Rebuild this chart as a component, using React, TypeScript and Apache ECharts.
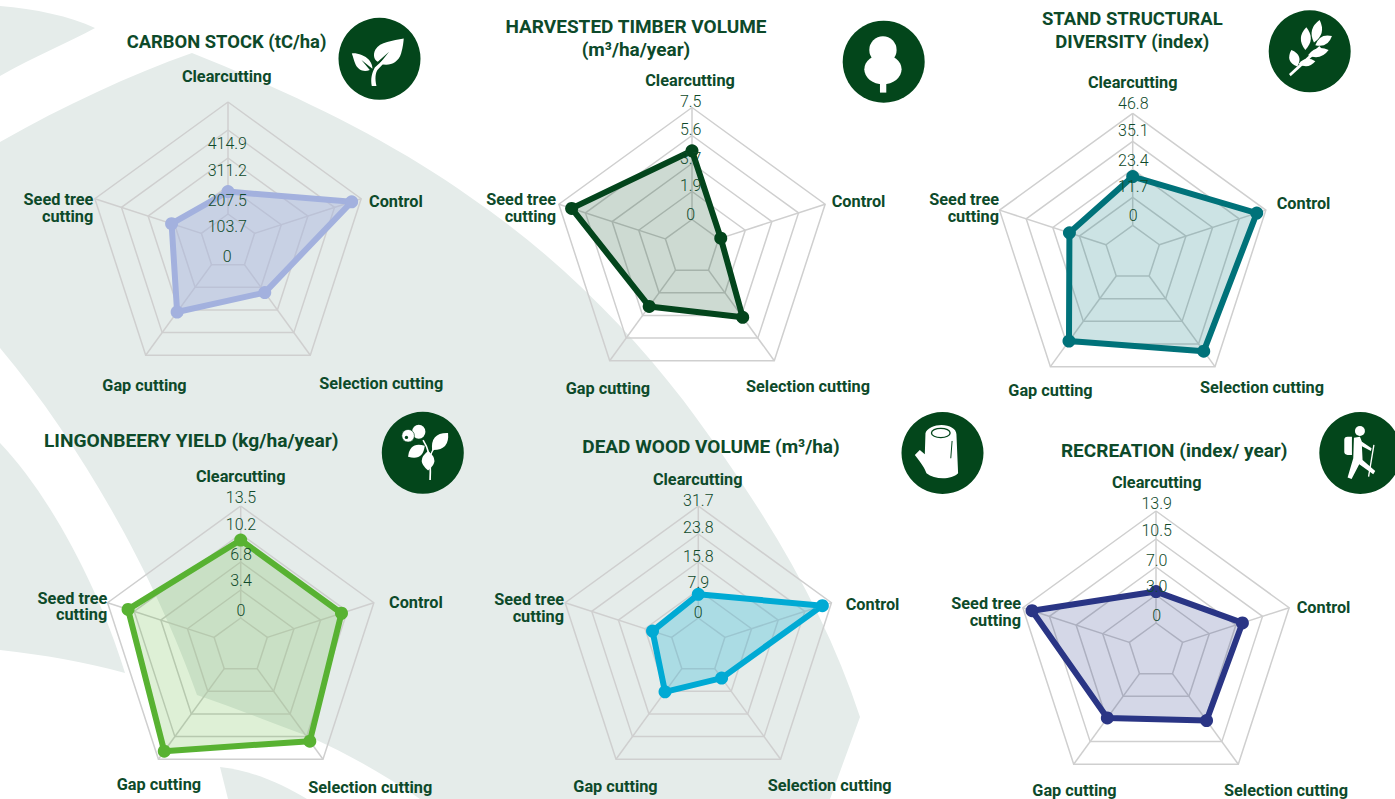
import React, { useEffect, useRef } from "react";
import * as echarts from "echarts";

const FONT = 'Roboto, sans-serif';
const TICK_FONT = 'Roboto, sans-serif';
const TEXT_DARK = "#0d4a2a";
const TICK_COLOR = "#0f4a2a";
const BG_SHAPE = "#e5ecea";
const ICON_DARK = "#03461b";
const RING = "#cfcfcf";
const RADIUS = 140;

const categories = ["Clearcutting", "Control", "Selection cutting", "Gap cutting", "Seed tree\ncutting"];

const carbonStock = [83, 378, 128, 217, 116];
const harvestedTimber = [4.6, 0.15, 3.9, 3.0, 6.6];
const structuralDiversity = [20.4, 42.8, 38.8, 33.6, 16.1];
const lingonberryYield = [9.4, 9.4, 10.8, 12.3, 10.9];
const deadWood = [6.7, 29, 3.3, 8.1, 5.7];
const recreation = [3.9, 7.8, 7.2, 6.8, 12.7];

const carbonTicks = ["414.9", "311.2", "207.5", "103.7", "0"];
const timberTicks = ["7.5", "5.6", "3.7", "1.9", "0"];
const diversityTicks = ["46.8", "35.1", "23.4", "11.7", "0"];
const lingonTicks = ["13.5", "10.2", "6.8", "3.4", "0"];
const deadWoodTicks = ["31.7", "23.8", "15.8", "7.9", "0"];
const recreationTicks = ["13.9", "10.5", "7.0", "3.0", "0"];

// The radar runs counter-clockwise; the first axis stays on top and the rest are reversed.
const toRadarOrder = <T,>(list: T[]): T[] => [list[0], ...list.slice(1).reverse()];

function leaf(x1: number, y1: number, x2: number, y2: number, w: number) {
  const mx = (x1 + x2) / 2, my = (y1 + y2) / 2;
  const dx = x2 - x1, dy = y2 - y1;
  const l = Math.hypot(dx, dy);
  const nx = (-dy / l) * w, ny = (dx / l) * w;
  return `M${x1} ${y1} Q${mx + nx} ${my + ny} ${x2} ${y2} Q${mx - nx} ${my - ny} ${x1} ${y1} Z`;
}
function ell(cx: number, cy: number, rx: number, ry: number) {
  return `M${cx - rx} ${cy} a${rx} ${ry} 0 1 0 ${2 * rx} 0 a${rx} ${ry} 0 1 0 ${-2 * rx} 0 Z`;
}

const W = "#ffffff";
type Part = { d: string; fill?: string; stroke?: string; lw?: number };
const panels: any[] = [
  {
    key: "c1", title: "CARBON STOCK (tC/ha)", titleSize: 18.4, titleX: 226.5, titleY: 41.7,
    values: carbonStock, ticks: carbonTicks, color: "#a3b1de", opacity: 0.45,
    center: [228, 242],
    names: [[226.7, 76.7, "center"], [369, 201.7, "left"], [319.3, 383.3, "left"], [102.3, 385, "left"], [93.3, 208.3, "right"]],
    tickX: 227.3, tickY: [143.7, 170.7, 200, 226.7, 256],
    icon: [379.5, 58.8, 149, 146],
    parts: [
      { d: "M222 85 C190 92 150 95 137 118 C128 135 134 150 144 155 L178 125 L150 160 C175 170 205 160 214 130 C220 110 221 95 222 85 Z", fill: W },
      { d: "M66 130 C80 128 105 135 118 150 C126 160 128 170 128 176 L95 150 L120 180 C100 188 85 178 78 165 C72 150 70 140 66 130 Z", fill: W },
      { d: "M160 150 L135 172 C126 190 122 205 126 228 L140 228 C135 205 137 190 143 180 L166 155 Z", fill: W },
    ],
  },
  {
    key: "c2", title: "HARVESTED TIMBER VOLUME\n(m³/ha/year)", titleSize: 19, titleX: 636, titleY: 38,
    values: harvestedTimber, ticks: timberTicks, color: "#03451c", opacity: 0.2,
    center: [692, 247.5],
    names: [[690, 80.3, "center"], [831.7, 201.7, "left"], [746, 386.7, "left"], [565.7, 388.7, "left"], [556, 208.3, "right"]],
    tickX: 690.7, tickY: [101.7, 129.3, 158.3, 185, 214],
    icon: [883.7, 61.7, 1241, 185],
    parts: [
      { d: ell(1240, 150, 41, 41), fill: W },
      { d: ell(1240, 208, 56, 45), fill: W },
      { d: "M1231 235 H1250 V278 H1231 Z", fill: W },
    ],
  },
  {
    key: "c3", title: "STAND STRUCTURAL\nDIVERSITY (index)", titleSize: 18.5, titleX: 1132.3, titleY: 30.7,
    values: structuralDiversity, ticks: diversityTicks, color: "#00727a", opacity: 0.2,
    center: [1132.7, 253.4],
    names: [[1132.7, 82.3, "center"], [1276.7, 203.3, "left"], [1200, 387.3, "left"], [1008.3, 390, "left"], [999, 208.3, "right"]],
    tickX: 1133.3, tickY: [103.3, 130, 160, 186, 215.7],
    icon: [1309.7, 51.3, 1154, 154],
    parts: [
      { d: "M1093 222 L1098 229 L1190 145 L1184 138 Z", fill: W },
      { d: leaf(1185, 60, 1168, 128, 30), fill: W },
      { d: leaf(1145, 82, 1142, 150, 30), fill: W },
      { d: leaf(1100, 150, 1118, 200, 30), fill: W },
      { d: leaf(1222, 108, 1172, 136, 26), fill: W },
      { d: leaf(1212, 150, 1150, 166, 26), fill: W },
      { d: leaf(1172, 184, 1122, 192, 22), fill: W },
    ],
  },
  {
    key: "c4", title: "LINGONBEERY YIELD (kg/ha/year)", titleSize: 19.2, titleX: 191.2, titleY: 440,
    values: lingonberryYield, ticks: lingonTicks, color: "#58b232", opacity: 0.2,
    center: [240.7, 646],
    names: [[240.7, 476.7, "center"], [389, 602.3, "left"], [308.3, 787.3, "left"], [116.7, 784.3, "left"], [107.3, 606.5, "right"]],
    tickX: 241, tickY: [497.3, 524.3, 554.3, 580.7, 610],
    icon: [422.8, 452.8, 144, 143],
    parts: [
      { d: ell(132, 80, 20, 21), fill: W },
      { d: ell(100, 92, 19, 19), fill: W, stroke: ICON_DARK, lw: 2 },
      { d: ell(95, 97, 5, 5), fill: ICON_DARK },
      { d: leaf(100, 155, 150, 122, 36), fill: W },
      { d: leaf(220, 84, 172, 135, 40), fill: W },
      { d: leaf(160, 138, 160, 196, 38), fill: W },
      { d: "M145 105 C158 125 170 150 166 225", stroke: W, lw: 5 },
      { d: "M195 115 C180 125 172 135 168 150", stroke: W, lw: 4 },
    ],
  },
  {
    key: "c5", title: "DEAD WOOD VOLUME (m³/ha)", titleSize: 19, titleX: 711, titleY: 446,
    values: deadWood, ticks: deadWoodTicks, color: "#00aad4", opacity: 0.25,
    center: [698.3, 646],
    names: [[697.7, 479, "center"], [845.7, 604.3, "left"], [767.7, 785, "left"], [573.3, 786.7, "left"], [564, 608.3, "right"]],
    tickX: 698.3, tickY: [500, 527.3, 556.7, 582.7, 612.3],
    icon: [942.5, 453, 143, 144],
    parts: [
      { d: "M92 85 C95 70 120 60 140 60 C165 60 185 72 185 88 L190 205 C170 225 120 225 95 205 C90 190 80 175 60 150 L75 135 L90 148 Z", fill: W },
      { d: ell(138, 84, 28, 14), fill: "none", stroke: ICON_DARK, lw: 4 },
      { d: "M172 108 L168 160", stroke: ICON_DARK, lw: 3 },
    ],
  },
  {
    key: "c6", title: "RECREATION (index/ year)", titleSize: 19, titleX: 1174.2, titleY: 450,
    values: recreation, ticks: recreationTicks, color: "#2a3585", opacity: 0.2,
    center: [1156, 651],
    names: [[1156.7, 482.3, "center"], [1296.7, 607.7, "left"], [1224, 790, "left"], [1032.3, 790, "left"], [1021, 612, "right"]],
    tickX: 1156.7, tickY: [503.3, 530, 560.7, 586, 615.7],
    icon: [1360.3, 453, 151, 144],
    parts: [
      { d: ell(150, 78, 15, 15), fill: W },
      { d: "M103 105 Q103 95 113 95 L126 95 L126 150 L113 150 Q103 150 103 140 Z", fill: W },
      { d: "M132 98 L150 95 L156 110 L185 130 L183 138 L156 124 L158 165 L196 198 L190 208 L148 178 L125 222 L113 218 L130 160 Z", fill: W },
      { d: "M192 120 L176 215", stroke: W, lw: 4 },
    ],
  },
];

const backgroundPaths = [
  "M0 6 C35 9 70 16 95 28 C70 42 35 56 0 76 Z",
  "M192 53 C290 92 390 140 470 197 C555 255 625 325 683 400 C765 510 825 610 860 717 L830 799 L420 799 C385 775 350 755 310 737 C270 722 235 708 197 695 C160 590 90 455 0 348 L0 142 C65 105 130 75 192 53 Z",
  "M0 443 C50 495 100 590 125 673 C85 662 45 655 0 650 Z",
  "M220 767 C250 770 280 783 307 799 L228 799 Z",
];

function reg(name: string, d: string) {
  echarts.graphic.registerShape(name, (echarts.graphic as any).extendPath(d, {}));
}
backgroundPaths.forEach((d, i) => reg(`bg${i}`, d));
panels.forEach((p) => (p.parts as Part[]).forEach((part, i) => reg(`${p.key}part${i}`, part.d)));

function buildOption() {
  const elements: any[] = backgroundPaths.map((_, i) => ({ type: `bg${i}`, x: 0, y: 0, z: -5, silent: true, style: { fill: BG_SHAPE } }));
  const radars: any[] = [];
  const series: any[] = [];

  panels.forEach((p, idx) => {
    const top = parseFloat(p.ticks[0]);
    radars.push({
      center: p.center,
      radius: RADIUS,
      startAngle: 90,
      splitNumber: 5,
      shape: "polygon",
      axisName: { show: false },
      axisLine: { show: false },
      axisTick: { show: false },
      axisLabel: { show: false },
      splitArea: { show: false },
      splitLine: { show: true, lineStyle: { color: RING, width: 1.5 } },
      indicator: toRadarOrder(categories).map((c) => ({ name: c, min: -top / 4, max: top })),
    });
    series.push({
      type: "radar",
      radarIndex: idx,
      symbol: "circle",
      symbolSize: 13,
      lineStyle: { color: p.color, width: 6 },
      itemStyle: { color: p.color },
      areaStyle: { color: p.color, opacity: p.opacity },
      data: [{ value: toRadarOrder(p.values), name: p.title }],
    });
    categories.forEach((_, i) => {
      const a = Math.PI / 2 - (i * 2 * Math.PI) / categories.length;
      elements.push({
        type: "line",
        silent: true,
        z: 0,
        shape: {
          x1: p.center[0] + (RADIUS / 5) * Math.cos(a),
          y1: p.center[1] - (RADIUS / 5) * Math.sin(a),
          x2: p.center[0] + RADIUS * Math.cos(a),
          y2: p.center[1] - RADIUS * Math.sin(a),
        },
        style: { stroke: RING, lineWidth: 1.5 },
      });
    });
    elements.push({
      type: "text", x: p.titleX, y: p.titleY, z: 5,
      style: { text: p.title, align: "center", verticalAlign: "middle", fill: TEXT_DARK, font: `700 ${p.titleSize}px ${FONT}`, lineHeight: 22.6 },
    });
    categories.forEach((c, i) => {
      const [x, y, align] = p.names[i];
      elements.push({
        type: "text", x, y, z: 5,
        style: { text: c, align, verticalAlign: "middle", fill: TEXT_DARK, font: `700 16.3px ${FONT}`, lineHeight: 16.8 },
      });
    });
    p.ticks.forEach((t: string, i: number) => {
      elements.push({
        type: "text", x: p.tickX, y: p.tickY[i], z: 5,
        style: { text: t, align: "center", verticalAlign: "middle", fill: TICK_COLOR, font: `300 16px ${TICK_FONT}` },
      });
    });
    const [cx, cy, ox, oy] = p.icon;
    elements.push({ type: "circle", silent: true, z: 5, shape: { cx, cy, r: 41 }, style: { fill: ICON_DARK } });
    (p.parts as Part[]).forEach((part, i) => {
      elements.push({
        type: `${p.key}part${i}`,
        silent: true,
        z: 5,
        x: cx - ox / 3,
        y: cy - oy / 3,
        scaleX: 1 / 3,
        scaleY: 1 / 3,
        style: { fill: part.fill ?? "none", stroke: part.stroke ?? "none", lineWidth: part.lw ?? 0 },
      });
    });
  });

  return {
    animation: false,
    backgroundColor: "#ffffff",
    graphic: { elements },
    radar: radars,
    series,
  };
}

export default function App() {
  const ref = useRef<HTMLDivElement>(null);
  useEffect(() => {
    document.body.style.margin = "0";
    const chart = echarts.init(ref.current!, undefined, { renderer: "svg" });
    chart.setOption(buildOption());
    return () => chart.dispose();
  }, []);
  return <div ref={ref} style={{ width: 1395, height: 799 }} />;
}
